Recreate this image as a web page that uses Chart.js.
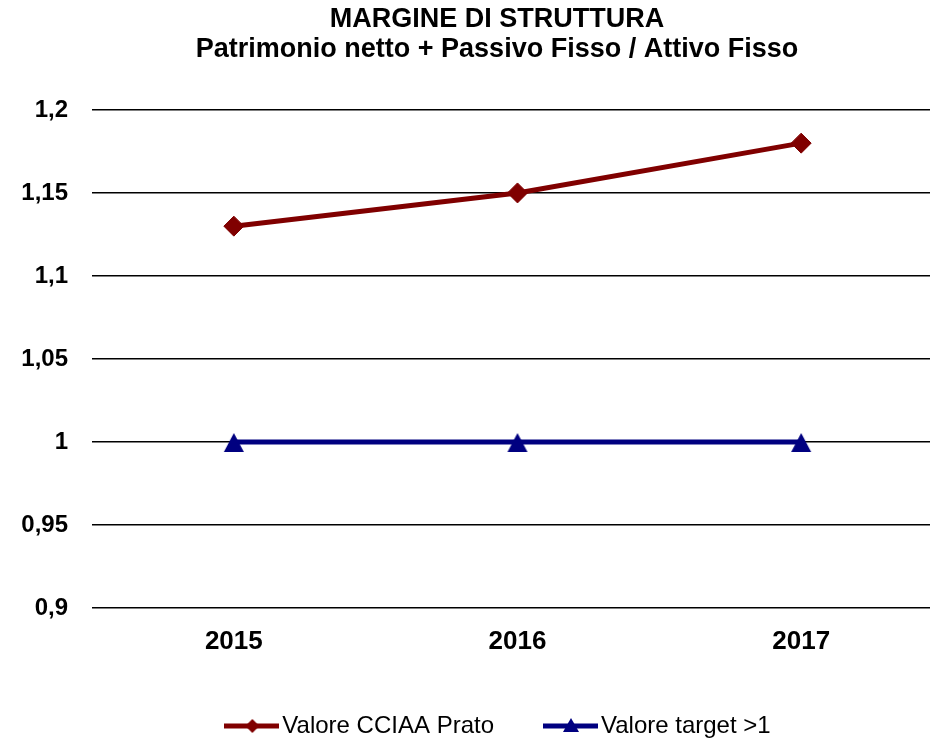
<!DOCTYPE html>
<html>
<head>
<meta charset="utf-8">
<script src="https://cdn.jsdelivr.net/npm/chart.js@4.4.1/dist/chart.umd.min.js"></script>
<style>
html,body{margin:0;padding:0;background:#fff;overflow:hidden;}
#wrap{width:943px;height:741px;position:relative;}
</style>
</head>
<body>
<div id="wrap"><canvas id="c" width="943" height="741"></canvas></div>
<script>
const categories = ['2015', '2016', '2017'];
const valoreCCIAA = [1.13, 1.15, 1.18];
const valoreTarget = [1, 1, 1];
const yTicks = [0.9, 0.95, 1, 1.05, 1.1, 1.15, 1.2];
const titleLines = ['MARGINE DI STRUTTURA', 'Patrimonio netto + Passivo Fisso / Attivo Fisso'];
const seriesNames = ['Valore CCIAA Prato', 'Valore target >1'];

const RED = '#800000';
const BLUE = '#000080';
const FONT = "'Liberation Sans', Arial, sans-serif";

function triangleMarker(color) {
  const cv = document.createElement('canvas');
  cv.width = 22; cv.height = 22;
  const g = cv.getContext('2d');
  g.fillStyle = color;
  g.beginPath(); g.moveTo(11, 2); g.lineTo(21, 21); g.lineTo(1, 21); g.closePath(); g.fill();
  return cv;
}

function legendIcon(color, shape) {
  const cv = document.createElement('canvas');
  cv.width = 55; cv.height = 18;
  const g = cv.getContext('2d');
  g.strokeStyle = color; g.lineWidth = 5;
  g.beginPath(); g.moveTo(0, 9); g.lineTo(55, 9); g.stroke();
  g.fillStyle = color;
  g.beginPath();
  if (shape === 'diamond') {
    g.moveTo(28, 2); g.lineTo(35, 9); g.lineTo(28, 16); g.lineTo(21, 9);
  } else {
    g.moveTo(28, 1); g.lineTo(36, 15); g.lineTo(20, 15);
  }
  g.closePath(); g.fill();
  return cv;
}
const icons = [legendIcon(RED, 'diamond'), legendIcon(BLUE, 'triangle')];

const layoutTweaks = {
  id: 'layoutTweaks',
  afterLayout(chart) {
    chart.scales.y.left = 0;
    chart.legend.left += 10;
  }
};

new Chart(document.getElementById('c'), {
  type: 'line',
  data: {
    labels: categories,
    datasets: [
      {
        label: seriesNames[0],
        data: valoreCCIAA,
        borderColor: RED,
        backgroundColor: RED,
        borderWidth: 5,
        pointStyle: 'rectRot',
        pointRadius: 10,
        pointHoverRadius: 10,
        pointBackgroundColor: RED,
        pointBorderColor: RED,
        pointBorderWidth: 1,
        tension: 0
      },
      {
        label: seriesNames[1],
        data: valoreTarget,
        borderColor: BLUE,
        backgroundColor: BLUE,
        borderWidth: 5,
        pointStyle: triangleMarker(BLUE),
        pointRadius: 11,
        pointHoverRadius: 11,
        tension: 0
      }
    ]
  },
  plugins: [layoutTweaks],
  options: {
    responsive: false,
    animation: false,
    devicePixelRatio: 1,
    layout: { autoPadding: false, padding: { left: 51, right: 0, top: 5, bottom: -7 } },
    plugins: {
      title: {
        display: true,
        text: titleLines,
        color: '#000',
        font: { family: FONT, size: 27, weight: 'bold', lineHeight: 1.11 },
        padding: { top: 0, bottom: 45 }
      },
      legend: {
        position: 'bottom',
        labels: {
          color: '#000',
          font: { family: FONT, size: 24 },
          usePointStyle: true,
          pointStyleWidth: 37,
          boxHeight: 18,
          padding: 58,
          generateLabels: (chart) => chart.data.datasets.map((ds, i) => ({
            text: ds.label,
            pointStyle: icons[i],
            fillStyle: ds.borderColor,
            strokeStyle: ds.borderColor,
            lineWidth: 0,
            fontColor: '#000',
            datasetIndex: i,
            hidden: false
          }))
        }
      },
      tooltip: { enabled: false }
    },
    scales: {
      x: {
        offset: true,
        afterFit: (scale) => { scale.height = 48; },
        grid: { display: false, drawTicks: false },
        border: { display: false },
        ticks: {
          color: '#000',
          padding: 18,
          font: { family: FONT, size: 26, weight: 'bold' }
        }
      },
      y: {
        min: 0.9,
        max: 1.2,
        afterBuildTicks: (scale) => { scale.ticks = yTicks.map(v => ({ value: v })); },
        afterFit: (scale) => { scale.width = 41; },
        grid: { color: '#000', lineWidth: 1.5, drawTicks: false },
        border: { display: false },
        ticks: {
          color: '#000',
          padding: 24,
          font: { family: FONT, size: 24, weight: 'bold' },
          callback: (v) => String(Math.round(v * 100) / 100).replace('.', ',')
        }
      }
    }
  }
});
</script>
</body>
</html>
